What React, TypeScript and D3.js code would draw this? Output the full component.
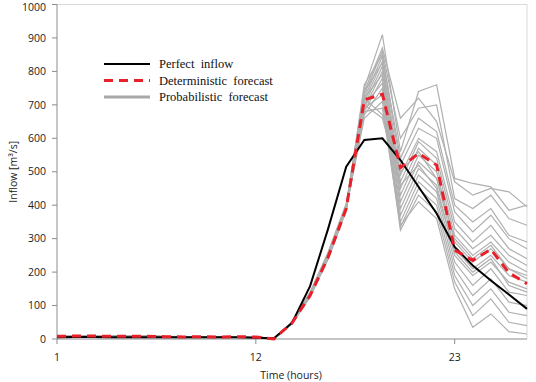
import React from "react";
import * as d3 from "d3";

const hours = d3.range(1, 28);
const xTickValues = [1, 12, 23];
const yTickValues = [0, 100, 200, 300, 400, 500, 600, 700, 800, 900, 1000];

const perfectInflow = [5, 6, 6, 5, 5, 5, 5, 5, 5, 5, 5, 4, 2, 48, 158, 330, 515, 595, 600, 535, 455, 375, 275, 220, 175, 133, 90];
const deterministic = [8, 9, 9, 8, 8, 8, 7, 6, 7, 6, 7, 6, 0, 48, 130, 245, 390, 715, 732, 512, 555, 520, 266, 235, 268, 198, 165];

const ensemble: number[][] = [
  [8, 9, 9, 8, 8, 7, 7, 7, 7, 6, 7, 7, 0, 50, 135, 255, 400, 750, 910, 560, 740, 760, 480, 465, 455, 385, 400],
  [9, 9, 10, 8, 8, 8, 7, 7, 7, 7, 7, 6, 0, 52, 140, 260, 405, 740, 870, 660, 720, 650, 470, 430, 450, 440, 395],
  [8, 9, 9, 8, 7, 8, 7, 6, 7, 6, 7, 7, 0, 47, 130, 248, 395, 730, 860, 600, 690, 700, 420, 390, 430, 360, 340],
  [7, 8, 9, 8, 8, 8, 7, 7, 6, 6, 7, 7, 0, 49, 132, 250, 392, 760, 850, 540, 660, 620, 400, 350, 390, 310, 290],
  [8, 9, 9, 8, 8, 8, 7, 7, 7, 6, 6, 6, 0, 46, 128, 242, 388, 720, 845, 520, 630, 600, 380, 320, 370, 300, 270],
  [9, 10, 9, 9, 8, 8, 8, 7, 7, 7, 7, 7, 0, 51, 138, 258, 402, 710, 830, 490, 600, 560, 350, 290, 340, 270, 240],
  [8, 9, 9, 8, 8, 8, 7, 7, 7, 6, 7, 7, 0, 48, 131, 246, 390, 740, 825, 470, 590, 540, 330, 270, 310, 250, 220],
  [8, 8, 9, 8, 8, 7, 7, 7, 7, 6, 7, 7, 0, 45, 126, 238, 384, 700, 815, 450, 570, 520, 310, 250, 290, 230, 200],
  [7, 9, 9, 8, 8, 8, 7, 7, 7, 6, 7, 6, 0, 50, 134, 252, 396, 690, 800, 430, 550, 500, 290, 230, 270, 210, 190],
  [8, 9, 9, 8, 8, 8, 7, 6, 7, 6, 7, 7, 0, 49, 133, 250, 394, 720, 790, 410, 530, 480, 270, 210, 250, 190, 170],
  [8, 9, 8, 8, 8, 8, 7, 7, 7, 6, 7, 7, 0, 47, 129, 244, 389, 680, 780, 390, 510, 460, 250, 190, 230, 170, 150],
  [9, 9, 9, 8, 8, 8, 7, 7, 7, 7, 7, 7, 0, 50, 136, 254, 398, 700, 765, 370, 490, 440, 230, 160, 210, 140, 130],
  [8, 9, 9, 8, 8, 8, 7, 7, 6, 6, 7, 7, 0, 48, 130, 247, 391, 670, 750, 350, 470, 420, 210, 130, 180, 110, 100],
  [8, 9, 9, 8, 7, 8, 7, 7, 7, 6, 7, 7, 0, 46, 127, 240, 386, 690, 730, 335, 450, 400, 190, 100, 150, 80, 70],
  [8, 9, 9, 8, 8, 8, 7, 7, 7, 6, 7, 6, 0, 49, 132, 249, 393, 660, 710, 325, 430, 380, 170, 70, 120, 50, 40],
  [8, 9, 9, 8, 8, 8, 7, 7, 7, 6, 7, 7, 0, 48, 131, 247, 392, 680, 690, 340, 410, 360, 150, 35, 75, 22, 15],
  [8, 9, 9, 8, 8, 8, 7, 7, 7, 6, 7, 7, 0, 51, 137, 256, 400, 720, 670, 500, 560, 480, 300, 240, 280, 210, 180],
  [8, 9, 9, 8, 8, 8, 7, 7, 7, 6, 7, 7, 0, 47, 129, 245, 388, 700, 660, 460, 520, 450, 260, 200, 240, 160, 140],
];

const legendLabels = ["Perfect  inflow", "Deterministic  forecast", "Probabilistic  forecast"];

const W = 536;
const H = 382;
const left = 57;
const right = 527;
const top = 4.5;
const bottom = 339;

export default function App() {
  const x = d3.scaleLinear().domain([1, 27]).range([left, right]);
  const y = d3.scaleLinear().domain([0, 1000]).range([bottom, top]);
  const line = d3
    .line<number>()
    .x((_, i) => x(hours[i]))
    .y((v) => y(v));

  const axisFont = "'Open Sans', 'Noto Sans', sans-serif";
  const serif = "'Liberation Serif', 'DejaVu Serif', serif";

  const legendRows = [
    { label: legendLabels[0], stroke: "#000", width: 2, dash: undefined as string | undefined },
    { label: legendLabels[1], stroke: "#e8202a", width: 3, dash: "9,6" },
    { label: legendLabels[2], stroke: "#a8a8a8", width: 3, dash: undefined },
  ];

  return (
    <svg
      width={W}
      height={H}
      style={{ position: "absolute", left: 0, top: 0, background: "#fff" }}
    >
      {/* plot frame */}
      <line x1={left} x2={right} y1={top} y2={top} stroke="#d9d9d9" strokeWidth={1} />
      <line x1={right} x2={right} y1={top} y2={bottom} stroke="#d9d9d9" strokeWidth={1} />
      <line x1={left} x2={left} y1={top} y2={bottom} stroke="#8c8c8c" strokeWidth={1} />
      <line x1={left} x2={right} y1={bottom} y2={bottom} stroke="#8c8c8c" strokeWidth={1} />

      {/* y ticks */}
      {yTickValues.map((t) => (
        <g key={t}>
          <line x1={left - 5} x2={left} y1={y(t)} y2={y(t)} stroke="#8c8c8c" />
          <text
            x={left - 11}
            y={Math.max(y(t), 7)}
            dy="0.35em"
            textAnchor="end"
            fontFamily={axisFont}
            fontSize={10.5}
            fill="#222"
          >
            {t}
          </text>
        </g>
      ))}

      {/* x ticks */}
      {xTickValues.map((t) => (
        <g key={t}>
          <line x1={x(t)} x2={x(t)} y1={bottom} y2={bottom + 5} stroke="#8c8c8c" />
          <text
            x={x(t)}
            y={bottom + 18}
            dy="0.35em"
            textAnchor="middle"
            fontFamily={axisFont}
            fontSize={10.5}
            fill="#222"
          >
            {t}
          </text>
        </g>
      ))}

      <text
        x={291}
        y={375}
        dy="0.35em"
        textAnchor="middle"
        fontFamily={axisFont}
        fontSize={10.5}
        fill="#222"
      >
        Time (hours)
      </text>
      <text
        transform={`translate(13,${(top + bottom) / 2}) rotate(-90)`}
        dy="0.35em"
        textAnchor="middle"
        fontFamily={axisFont}
        fontSize={10.5}
        fill="#222"
      >
        Inflow [m³/s]
      </text>

      {/* ensemble members */}
      {ensemble.map((m, i) => (
        <path key={i} d={line(m) ?? ""} fill="none" stroke="#b0b0b0" strokeWidth={1.2} />
      ))}

      <path d={line(perfectInflow) ?? ""} fill="none" stroke="#000" strokeWidth={2} />
      <path
        d={line(deterministic) ?? ""}
        fill="none"
        stroke="#e8202a"
        strokeWidth={3}
        strokeDasharray="9,6"
      />

      {/* legend */}
      {legendRows.map((r, i) => {
        const ly = 64 + i * 16.5;
        return (
          <g key={r.label}>
            <line
              x1={104}
              x2={150}
              y1={ly}
              y2={ly}
              stroke={r.stroke}
              strokeWidth={r.width}
              strokeDasharray={r.dash}
            />
            <text
              x={159}
              y={ly}
              dy="0.32em"
              fontFamily={serif}
              fontSize={12.5}
              fill="#111"
              style={{ whiteSpace: "pre" }}
            >
              {r.label}
            </text>
          </g>
        );
      })}
    </svg>
  );
}
